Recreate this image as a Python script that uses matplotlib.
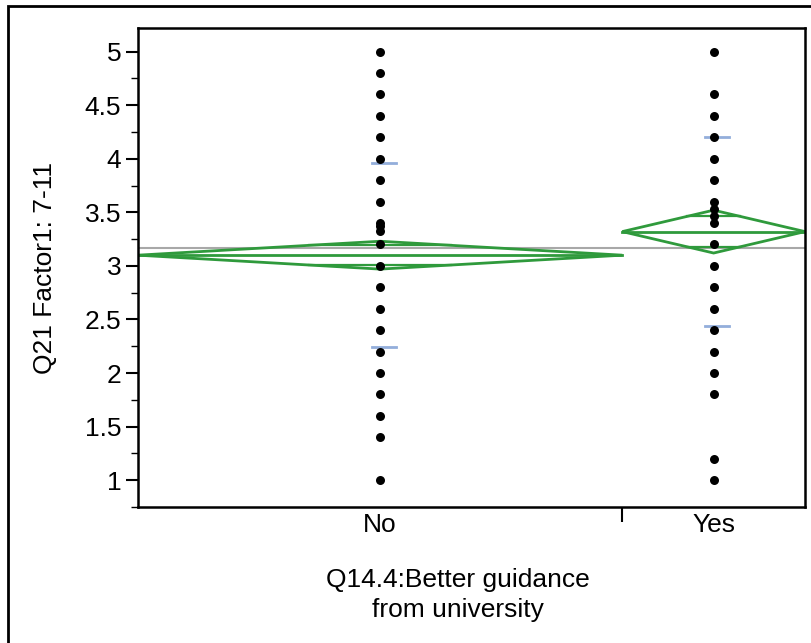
import matplotlib
matplotlib.use("Agg")
import matplotlib.pyplot as plt
from matplotlib.patches import Rectangle, Polygon
import numpy as np

plt.rcParams['font.family'] = ['Liberation Sans', 'DejaVu Sans']

# --- data ---
groups = ["No", "Yes"]
group_sizes = [53, 20]          # JMP draws group widths proportional to n
no_values = [5.0, 4.8, 4.6, 4.4, 4.2, 4.0, 3.8, 3.6, 3.4, 3.37, 3.33, 3.2,
             3.0, 2.8, 2.6, 2.4, 2.2, 2.0, 1.8, 1.6, 1.4, 1.0]
yes_values = [5.0, 4.6, 4.4, 4.2, 4.0, 3.8, 3.6, 3.53, 3.47, 3.4, 3.2,
              3.0, 2.8, 2.6, 2.4, 2.2, 2.0, 1.8, 1.2, 1.0]
group_means = [3.10, 3.32]
ci_half = [0.13, 0.20]          # half height of the means diamonds
std_devs = [0.86, 0.885]
grand_mean = 3.165
y_ticks = [1, 1.5, 2, 2.5, 3, 3.5, 4, 4.5, 5]

GREEN = '#2f9a3c'
BLUE = '#93aedb'

fig = plt.figure(figsize=(8.11, 6.43), dpi=100)
ax = fig.add_axes([138 / 811, 1 - 507 / 643, (805 - 138) / 811, (507 - 28) / 643])

edges = np.concatenate([[0], np.cumsum(group_sizes)])
centers = (edges[:-1] + edges[1:]) / 2

# grand mean line
ax.axhline(grand_mean, color='#a8a8a8', lw=1.5, zorder=1)

for i, vals in enumerate([no_values, yes_values]):
    x0, x1, xc = edges[i], edges[i + 1], centers[i]
    m, h = group_means[i], ci_half[i]
    w = x1 - x0
    # means diamond
    ax.add_patch(Polygon([[x0, m], [xc, m + h], [x1, m], [xc, m - h]],
                         closed=True, fill=False, edgecolor=GREEN, lw=2, zorder=2))
    ax.plot([x0, x1], [m, m], color=GREEN, lw=2, zorder=2)
    # overlap marks
    om = h / np.sqrt(2)
    d = w / 2 * (1 - 1 / np.sqrt(2))
    for s in (1, -1):
        ax.plot([xc - d, xc + d], [m + s * om, m + s * om], color=GREEN, lw=1.6, zorder=2)
    # std dev lines
    for s in (1, -1):
        ax.plot([xc - 0.9, xc + 1.7], [m + s * std_devs[i]] * 2, color=BLUE, lw=2, zorder=3)
    ax.scatter([xc] * len(vals), vals, s=42, color='black', zorder=4, linewidths=0)

ax.set_xlim(edges[0], edges[-1])
ax.set_ylim(0.75, 5.22)

ax.set_yticks(y_ticks)
ax.set_yticklabels([f"{t:g}" for t in y_ticks])
ax.set_yticks(np.arange(0.75, 5.25, 0.25), minor=True)
ax.tick_params(axis='y', which='major', length=9, width=1.5, labelsize=19, pad=3)
ax.tick_params(axis='y', which='minor', length=5, width=1)

ax.set_xticks([edges[1]])
ax.set_xticklabels([""])
ax.set_xticks(centers, minor=True)
ax.set_xticklabels(groups, minor=True)
ax.tick_params(axis='x', which='major', length=11, width=1.5)
ax.tick_params(axis='x', which='minor', length=0, labelsize=19, pad=4)

for sp in ax.spines.values():
    sp.set_linewidth(1.8)

ax.set_ylabel("Q21 Factor1: 7-11", fontsize=19, labelpad=20)
fig.text(458 / 811, 1 - 595 / 643, "Q14.4:Better guidance\nfrom university",
         ha='center', va='center', fontsize=19, linespacing=1.3)

# outer frame (left and top visible)
fig.add_artist(Rectangle((8 / 811, -0.1), 1.2, 1 - 6 / 643 + 0.1,
                         transform=fig.transFigure, fill=False, edgecolor='black', lw=2))

fig.savefig("out.png", dpi=100)
